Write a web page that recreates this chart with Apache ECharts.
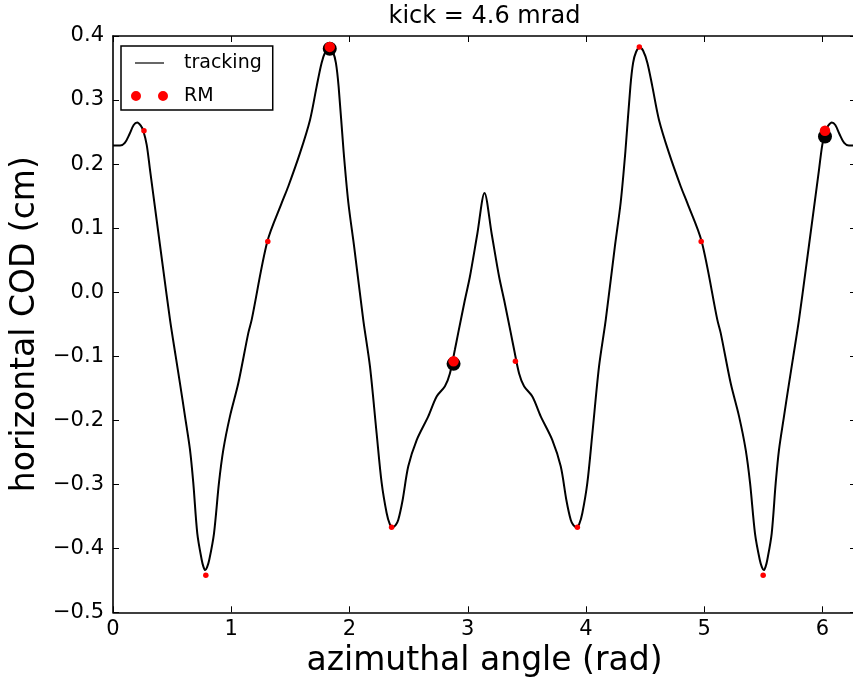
<!DOCTYPE html>
<html>
<head>
<meta charset="utf-8">
<script src="https://cdn.jsdelivr.net/npm/echarts@6/dist/echarts.min.js"></script>
<style>
html,body{margin:0;padding:0;background:#fff;}
#chart{width:853px;height:677px;}
</style>
</head>
<body>
<div id="chart"></div>
<script>
// tracking curve (azimuthal angle in rad, horizontal COD in cm)
const trackX = [0.000,0.060,0.100,0.140,0.175,0.205,0.235,0.256,0.285,0.313,0.369,0.425,0.482,0.530,0.566,0.609,0.651,0.679,0.713,0.750,0.765,0.780,0.795,0.814,0.854,0.896,0.933,0.989,1.060,1.144,1.173,1.305,1.426,1.482,1.581,1.666,1.722,1.764,1.800,1.829,1.860,1.885,1.908,1.950,1.990,2.040,2.116,2.173,2.229,2.272,2.314,2.340,2.365,2.390,2.412,2.449,2.497,2.568,2.666,2.737,2.807,2.849,2.891,2.919,2.976,3.018,3.080,3.1416,
  3.2032,3.2652,3.3072,3.3642,3.3922,3.4342,3.4762,3.5462,3.6172,3.7152,3.7862,3.8342,3.8712,3.8932,3.9182,3.9432,3.9692,4.0112,4.0542,4.1102,4.1672,4.2432,4.2932,4.3332,4.3752,4.3982,4.4232,4.4542,4.4832,4.5192,4.5612,4.6172,4.7022,4.8012,4.8572,4.9782,5.1102,5.1392,5.2232,5.2942,5.3502,5.3872,5.4292,5.4692,5.4882,5.5032,5.5182,5.5332,5.5702,5.6042,5.6322,5.6742,5.7172,5.7532,5.8012,5.8582,5.9142,5.9702,5.9982,6.0272,6.0482,6.0782,6.1082,6.1432,6.1832,6.2232,6.2832];
const trackY = [0.229,0.229,0.233,0.247,0.261,0.265,0.260,0.252,0.230,0.191,0.113,0.035,-0.043,-0.100,-0.142,-0.194,-0.246,-0.298,-0.377,-0.418,-0.429,-0.434,-0.430,-0.418,-0.377,-0.298,-0.246,-0.194,-0.142,-0.064,-0.043,0.079,0.139,0.165,0.217,0.269,0.321,0.358,0.377,0.382,0.375,0.358,0.321,0.220,0.140,0.070,-0.043,-0.116,-0.220,-0.298,-0.345,-0.362,-0.367,-0.364,-0.356,-0.325,-0.272,-0.231,-0.194,-0.163,-0.147,-0.127,-0.090,-0.064,-0.012,0.024,0.090,0.155,
  0.090,0.024,-0.012,-0.064,-0.090,-0.127,-0.147,-0.163,-0.194,-0.231,-0.272,-0.325,-0.356,-0.364,-0.367,-0.362,-0.345,-0.298,-0.220,-0.116,-0.043,0.070,0.140,0.220,0.321,0.358,0.375,0.382,0.377,0.358,0.321,0.269,0.217,0.165,0.139,0.079,-0.043,-0.064,-0.142,-0.194,-0.246,-0.298,-0.377,-0.418,-0.430,-0.434,-0.429,-0.418,-0.377,-0.298,-0.246,-0.194,-0.142,-0.100,-0.043,0.035,0.113,0.191,0.230,0.252,0.260,0.265,0.261,0.247,0.233,0.229,0.229];

// RM points
const rmX = [0.262,0.785,1.309,1.833,2.356,2.880,3.403,3.927,4.451,4.974,5.498,6.021];
const rmY = [0.252,-0.442,0.079,0.383,-0.367,-0.108,-0.108,-0.367,0.383,0.079,-0.442,0.252];

// highlighted points (black large markers with red markers on top)
const bigX = [1.833,2.880,6.021];
const bigBlackY = [0.380,-0.112,0.243];
const bigRedY = [0.383,-0.108,0.252];

const xTickLabels = ['0','1','2','3','4','5','6'];
const titleText = 'kick = 4.6 mrad';
const xName = 'azimuthal angle (rad)';
const yName = 'horizontal COD (cm)';

const FONT = 'DejaVu Sans';
const pairs = (xs, ys) => xs.map((x, i) => [x, ys[i]]);

const LINE_ICON = 'path://M0,0 M48,10 M4,4.4 L33,4.4 L33,5.6 L4,5.6 Z';
const DOTS_ICON = 'path://M0,0 M48,10 M0,5 a5,5 0 1,0 10,0 a5,5 0 1,0 -10,0 Z M27,5 a5,5 0 1,0 10,0 a5,5 0 1,0 -10,0 Z';

const chart = echarts.init(document.getElementById('chart'), null, {renderer: 'canvas'});
const axisLineStyle = {color: '#000', width: 1.6};
chart.setOption({
  animation: false,
  backgroundColor: '#fff',
  textStyle: {fontFamily: FONT},
  title: {
    text: titleText, left: 484.5, top: 5, padding: 0, textAlign: 'center',
    textStyle: {fontFamily: FONT, fontSize: 24, fontWeight: 'normal', color: '#000'}
  },
  grid: {left: 113, top: 36, width: 743, bottom: 64.7, containLabel: false, outerBoundsMode: 'none'},
  legend: {
    left: 121, top: 46, orient: 'vertical',
    padding: [7, 11, 4, 10], itemGap: 13, itemWidth: 48, itemHeight: 10,
    borderColor: '#000', borderWidth: 1.5, backgroundColor: '#fff',
    selectedMode: false,
    textStyle: {fontFamily: FONT, fontSize: 19, color: '#000', lineHeight: 20},
    data: [
      {name: 'tracking', icon: LINE_ICON, itemStyle: {color: '#000', borderWidth: 0}},
      {name: 'RM', icon: DOTS_ICON, itemStyle: {color: '#ff0000', borderWidth: 0}}
    ]
  },
  xAxis: [{
    type: 'value', min: 0, max: 2 * Math.PI, interval: 1,
    name: xName, nameLocation: 'middle', nameGap: 29,
    nameTextStyle: {fontFamily: FONT, fontSize: 33, color: '#000'},
    axisLine: {show: true, onZero: false, lineStyle: axisLineStyle},
    axisTick: {show: true, inside: true, length: 6, lineStyle: {color: '#000', width: 1}},
    splitLine: {show: false},
    axisLabel: {
      show: true, margin: 7, fontFamily: FONT, fontSize: 21, color: '#000', showMaxLabel: false,
      formatter: v => { const r = Math.round(v); return Math.abs(v - r) < 1e-6 ? xTickLabels[r] : ''; }
    }
  }, {
    type: 'value', min: 0, max: 2 * Math.PI, interval: 1, position: 'top',
    axisLine: {show: true, onZero: false, lineStyle: axisLineStyle},
    axisTick: {show: true, inside: true, length: 6, lineStyle: {color: '#000', width: 1}},
    axisLabel: {show: false}, splitLine: {show: false}
  }],
  yAxis: [{
    type: 'value', min: -0.5, max: 0.4, interval: 0.1,
    name: yName, nameLocation: 'middle', nameGap: 69,
    nameTextStyle: {fontFamily: FONT, fontSize: 33, color: '#000'},
    axisLine: {show: true, onZero: false, lineStyle: axisLineStyle},
    axisTick: {show: true, inside: true, length: 6, lineStyle: {color: '#000', width: 1}},
    splitLine: {show: false},
    axisLabel: {
      show: true, margin: 9, fontFamily: FONT, fontSize: 21, color: '#000',
      formatter: v => (Math.round(v * 10) / 10).toFixed(1).replace('-', '\u2212')
    }
  }, {
    type: 'value', min: -0.5, max: 0.4, interval: 0.1, position: 'right',
    axisLine: {show: true, onZero: false, lineStyle: axisLineStyle},
    axisTick: {show: true, inside: true, length: 6, lineStyle: {color: '#000', width: 1}},
    axisLabel: {show: false}, splitLine: {show: false}
  }],
  series: [
    {
      name: 'tracking', type: 'line', data: pairs(trackX, trackY),
      symbol: 'none', smooth: 0.3, lineStyle: {color: '#000', width: 2},
      itemStyle: {color: '#000'}, z: 2
    },
    {
      name: 'highlight', type: 'scatter', data: pairs(bigX, bigBlackY),
      symbolSize: 14, itemStyle: {color: '#000', opacity: 1}, z: 3
    },
    {
      name: 'RM', type: 'scatter', data: pairs(rmX, rmY),
      symbolSize: 5.5, itemStyle: {color: '#ff0000', opacity: 1}, z: 4
    },
    {
      name: 'RM', type: 'scatter', data: pairs(bigX, bigRedY),
      symbolSize: 10.5, itemStyle: {color: '#ff0000', opacity: 1}, z: 5
    }
  ]
});
</script>
</body>
</html>
